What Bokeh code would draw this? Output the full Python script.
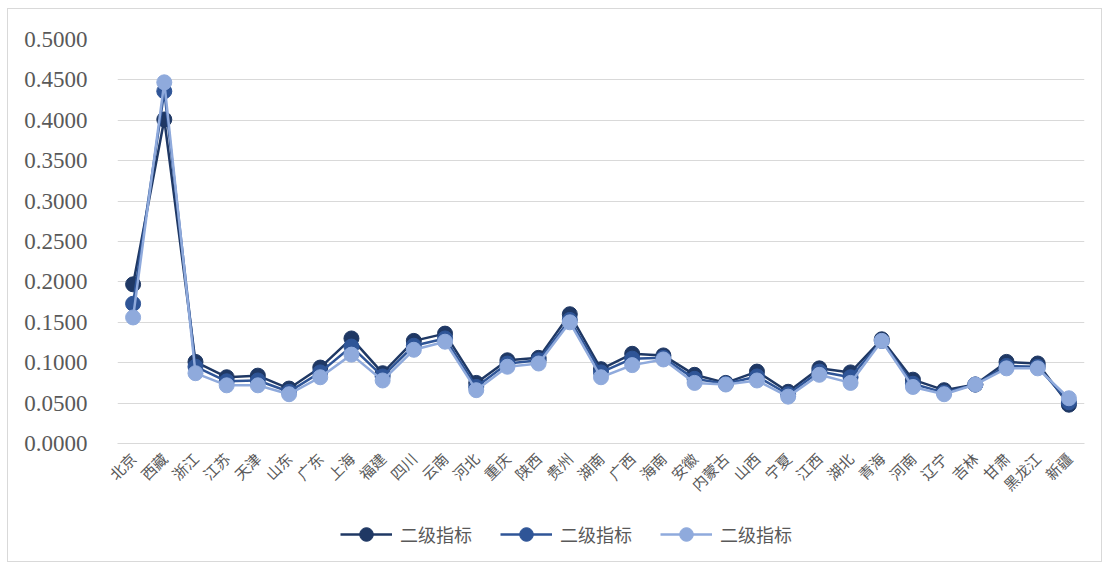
from math import pi

from bokeh.embed import file_html
from bokeh.layouts import column
from bokeh.models import (ColumnDataSource, FactorRange, Legend, LegendItem,
                          NumeralTickFormatter, Range1d, SingleIntervalTicker)
from bokeh.plotting import figure
from bokeh.resources import INLINE

provinces = ["北京", "西藏", "浙江", "江苏", "天津", "山东", "广东", "上海", "福建", "四川",
             "云南", "河北", "重庆", "陕西", "贵州", "湖南", "广西", "海南", "安徽", "内蒙古",
             "山西", "宁夏", "江西", "湖北", "青海", "河南", "辽宁", "吉林", "甘肃", "黑龙江", "新疆"]

series_a = [0.197, 0.401, 0.101, 0.082, 0.084, 0.068, 0.094, 0.130, 0.087, 0.127,
            0.136, 0.075, 0.103, 0.106, 0.160, 0.092, 0.111, 0.109, 0.085, 0.075,
            0.089, 0.064, 0.093, 0.088, 0.129, 0.079, 0.066, 0.073, 0.101, 0.099, 0.048]
series_b = [0.173, 0.436, 0.095, 0.077, 0.078, 0.064, 0.088, 0.120, 0.083, 0.121,
            0.130, 0.070, 0.099, 0.103, 0.153, 0.088, 0.105, 0.106, 0.080, 0.074,
            0.083, 0.061, 0.089, 0.082, 0.127, 0.074, 0.063, 0.073, 0.096, 0.095, 0.051]
series_c = [0.156, 0.447, 0.087, 0.072, 0.072, 0.061, 0.082, 0.110, 0.078, 0.116,
            0.126, 0.066, 0.095, 0.099, 0.150, 0.082, 0.097, 0.104, 0.075, 0.073,
            0.078, 0.058, 0.085, 0.075, 0.127, 0.070, 0.061, 0.073, 0.093, 0.093, 0.056]

series_names = ["二级指标", "二级指标", "二级指标"]
colors = ["#1F3864", "#2F5597", "#8FAADC"]

label_font = "Noto Sans CJK SC"
number_font = "Times New Roman"
text_grey = "#595959"

# main chart
p = figure(
    x_range=FactorRange(*provinces, range_padding=0),
    y_range=Range1d(0, 0.5),
    width=1093, height=500,
    min_border_left=109, min_border_right=17,
    min_border_top=30, min_border_bottom=66,
    output_backend="svg", toolbar_location=None,
    background_fill_color="white", border_fill_color="white",
)
p.outline_line_color = None

# y axis: fixed 0.05 steps with four decimals
p.yaxis.ticker = SingleIntervalTicker(interval=0.05)
p.yaxis.formatter = NumeralTickFormatter(format="0.0000")
p.yaxis.axis_line_color = None
p.yaxis.major_tick_line_color = None
p.yaxis.minor_tick_line_color = None
p.yaxis.major_label_text_font = number_font
p.yaxis.major_label_text_font_size = "23px"
p.yaxis.major_label_text_color = text_grey
p.yaxis.major_label_standoff = 24

# x axis: rotated province names
p.xaxis.axis_line_color = "#d9d9d9"
p.xaxis.axis_line_width = 1
p.xaxis.major_tick_line_color = None
p.xaxis.minor_tick_line_color = None
p.xaxis.major_label_orientation = pi / 4
p.xaxis.major_label_text_font = label_font
p.xaxis.major_label_text_font_size = "15px"
p.xaxis.major_label_text_color = text_grey
p.xaxis.major_label_standoff = 6

p.xgrid.grid_line_color = None
p.ygrid.grid_line_color = "#d9d9d9"
p.ygrid.grid_line_width = 1

source = ColumnDataSource(dict(province=provinces, a=series_a, b=series_b, c=series_c))

for col, color in zip(["a", "b", "c"], colors):
    p.line("province", col, source=source, line_color=color, line_width=2.5)
    p.scatter("province", col, source=source, size=15, fill_color=color,
              line_color=color, line_width=1)

# legend strip underneath the chart; its renderers sit outside the visible range
lg = figure(
    width=1093, height=52, x_range=Range1d(0, 1), y_range=Range1d(0, 1),
    x_axis_type=None, y_axis_type=None,
    min_border_left=0, min_border_right=0, min_border_top=0, min_border_bottom=0,
    output_backend="svg", toolbar_location=None,
    background_fill_color="white", border_fill_color="white",
)
lg.outline_line_color = None
lg.grid.visible = False

items = []
for color, name in zip(colors, series_names):
    ln = lg.line(x=[-5, -4], y=[-5, -5], line_color=color, line_width=2.5)
    sc = lg.scatter(x=[-5], y=[-5], size=14, fill_color=color, line_color=color)
    items.append(LegendItem(label=name, renderers=[ln, sc]))

legend = Legend(
    items=items, orientation="horizontal", location=(223, 10), margin=0,
    glyph_width=52, glyph_height=34, label_standoff=8, spacing=28, padding=0,
    label_text_font=label_font, label_text_font_size="18px", label_text_color=text_grey,
    border_line_color=None, background_fill_alpha=0,
)
lg.add_layout(legend, "center")

page = column(p, lg, spacing=0)
page.margin = (8, 0, 0, 7)
page.styles = {"border": "1px solid #d9d9d9", "background-color": "white"}

open("out.html", "w").write(file_html(page, INLINE))
